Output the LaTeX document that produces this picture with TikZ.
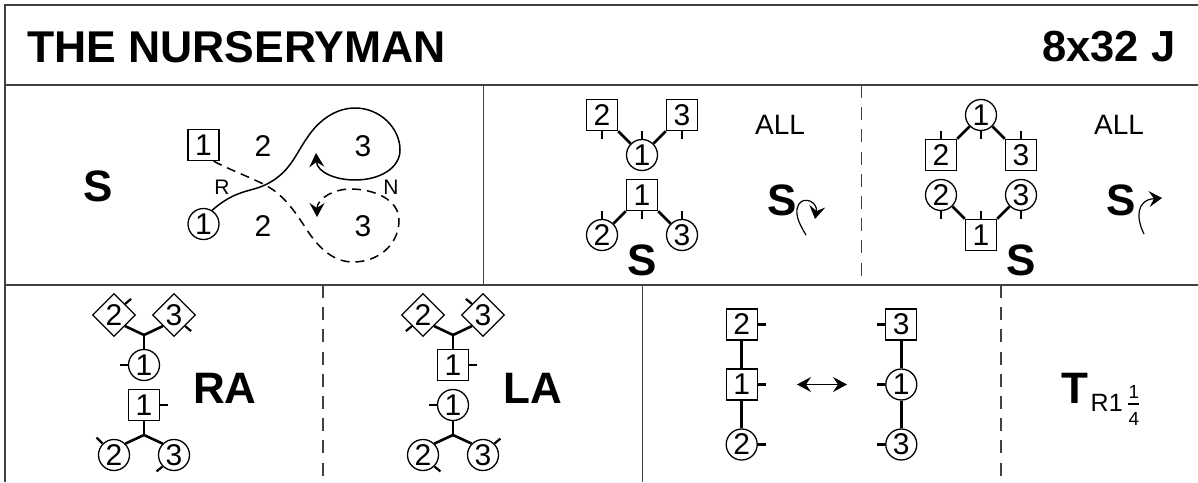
\documentclass[tikz,border=0pt]{standalone}
\usepackage{fontspec}
\setmainfont{Liberation Sans}
\usetikzlibrary{arrows.meta,shapes.geometric}
\tikzset{
  x=1pt,y=-1pt,
  frameline/.style={line width=1.6pt,draw=black!75},
  dashline/.style={line width=1.5pt,draw=black!75,dash pattern=on 13pt off 9.2pt},
  dsq/.style={draw,rectangle,line width=1.3pt,minimum size=31pt,inner sep=0pt,font=\fontsize{30}{30}\selectfont},
  dci/.style={draw,circle,line width=1.3pt,minimum size=31pt,inner sep=0pt,font=\fontsize{30}{30}\selectfont},
  ddi/.style={draw,diamond,line width=1.3pt,minimum width=43pt,minimum height=43pt,inner sep=0pt,font=\fontsize{30}{30}\selectfont},
  bond/.style={line width=2.6pt},
  facing/.style={line width=2.2pt},
  big/.style={font=\fontsize{44}{44}\selectfont\bfseries},
  lab/.style={font=\fontsize{30}{30}\selectfont},
  allab/.style={font=\fontsize{28}{28}\selectfont},
  smalllab/.style={font=\fontsize{21}{21}\selectfont},
  trk/.style={line width=1.5pt,-{Stealth[length=14pt,width=15pt,inset=5pt]}},
  thintrk/.style={line width=1.2pt,-{Stealth[length=13pt,width=16pt,inset=5pt]}},
}
\begin{document}
\begin{tikzpicture}
\useasboundingbox (0,0) rectangle (1198,482);
\fill[white] (0,0) rectangle (1198,482);
% frame
\coordinate (fa) at (4.7,5); \coordinate (fb) at (1198,5);
\coordinate (fc) at (4.7,482);
\draw[frameline] (fc) -- (fa) -- (fb);
\coordinate (l1a) at (4.7,85); \coordinate (l1b) at (1198,85);
\coordinate (l2a) at (4.7,285); \coordinate (l2b) at (1198,285);
\draw[frameline] (l1a) -- (l1b);
\draw[frameline] (l2a) -- (l2b);
\coordinate (v1a) at (483.3,85); \coordinate (v1b) at (483.3,285);
\coordinate (v2a) at (642.3,285); \coordinate (v2b) at (642.3,482);
\draw[frameline] (v1a) -- (v1b);
\draw[frameline] (v2a) -- (v2b);
\coordinate (d1a) at (861.7,85); \coordinate (d1b) at (861.7,285);
\coordinate (d2a) at (323,285); \coordinate (d2b) at (323,482);
\coordinate (d3a) at (1001,285); \coordinate (d3b) at (1001,482);
\draw[dashline] (d1a) -- (d1b);
\draw[dashline] (d2a) -- (d2b);
\draw[dashline] (d3a) -- (d3b);
% title
\node[font=\fontsize{44.5}{44.5}\selectfont\bfseries,anchor=west,inner sep=0pt] (title) at (27,47) {THE NURSERYMAN};
\node[font=\fontsize{43.5}{43.5}\selectfont\bfseries,anchor=east,inner sep=0pt] (bars) at (1175.5,47) {8x32 J};
% panel 1
\node[big] (p1s) at (98,186) {S};
\node[dsq] (a1) at (203.5,145) {1};
\node[dci] (a2) at (203.5,224) {1};
\node[lab] (a3) at (263,146) {2};
\node[lab] (a4) at (363,146) {3};
\node[lab] (a5) at (263,226) {2};
\node[lab] (a6) at (363,226) {3};
\node[smalllab] (a7) at (222,187) {R};
\node[smalllab] (a8) at (391,187) {N};
\draw[trk] (a2.58) .. controls (235,190) and (250,192) .. (265,185) .. controls (290,173) and (295,155) .. (307,138) .. controls (320,118) and (338,108) .. (355,108) .. controls (380,108) and (400,128) .. (400,150) .. controls (400,168) and (380,180) .. (355,180) .. controls (335,180) and (317,172) .. (316,153);
\draw[trk,dash pattern=on 9pt off 6pt] (a1.-58) .. controls (230,170) and (250,177) .. (265,185) .. controls (285,195) and (297,215) .. (307,230) .. controls (320,250) and (335,262) .. (353,262) .. controls (378,262) and (399,245) .. (399,220) .. controls (399,200) and (375,189) .. (350,189) .. controls (335,189) and (317,198) .. (317,217);
% panel 2
\node[dsq] (b2) at (602,115) {2};
\node[dsq] (b3) at (682,115) {3};
\node[dci] (b1) at (642,155) {1};
\draw[bond] (b2.south east) -- (b1.135);
\draw[bond] (b3.south west) -- (b1.45);
\draw[facing] (b2.south) -- ++(0,8);
\draw[facing] (b3.south) -- ++(0,8);
\draw[facing] (b1.north) -- ++(0,-8);
\node[dsq] (b4) at (642,195) {1};
\node[dci] (b5) at (602,235) {2};
\node[dci] (b6) at (682,235) {3};
\draw[bond] (b4.south west) -- (b5.45);
\draw[bond] (b4.south east) -- (b6.135);
\draw[facing] (b4.south) -- ++(0,8);
\draw[facing] (b5.north) -- ++(0,-8);
\draw[facing] (b6.north) -- ++(0,-8);
\node[big] (b7) at (642,260) {S};
\node[allab] (b8) at (780,125) {ALL};
\node[big] (b9) at (782,200) {S};
\coordinate (b10) at (806,235);
\draw[thintrk] (b10) .. controls (798,222) and (794,212) .. (799,204) .. controls (804,196) and (818,202) .. (815,219);
% panel 3
\node[dci] (c1) at (981,115) {1};
\node[dsq] (c2) at (941,155) {2};
\node[dsq] (c3) at (1021,155) {3};
\draw[bond] (c1.225) -- (c2.north east);
\draw[bond] (c1.-45) -- (c3.north west);
\draw[facing] (c1.south) -- ++(0,8);
\draw[facing] (c2.north) -- ++(0,-8);
\draw[facing] (c3.north) -- ++(0,-8);
\node[dci] (c4) at (941,195) {2};
\node[dci] (c5) at (1021,195) {3};
\node[dsq] (c6) at (981,235) {1};
\draw[bond] (c4.-45) -- (c6.north west);
\draw[bond] (c5.225) -- (c6.north east);
\draw[facing] (c4.south) -- ++(0,8);
\draw[facing] (c5.south) -- ++(0,8);
\draw[facing] (c6.north) -- ++(0,-8);
\node[big] (c7) at (1021,260) {S};
\node[allab] (c8) at (1119,125) {ALL};
\node[big] (c9) at (1121,200) {S};
\coordinate (c10) at (1144,234);
\coordinate (c11) at (1162,198);
\draw[thintrk] (c10) .. controls (1136,218) and (1136,200) .. (c11);
% panel 4
\node[ddi] (d1) at (114,315) {2};
\node[ddi] (d2) at (174,315) {3};
\coordinate (dj) at (144,335);
\node[dci] (d3) at (144,365) {1};
\draw[bond] (d1.-45) -- (dj);
\draw[bond] (d2.225) -- (dj);
\draw[bond] (dj) -- (d3.north);
\draw[facing] (d1.45) -- ++(6,-5);
\draw[facing] (d2.-45) -- ++(6,5);
\draw[facing] (d3.west) -- ++(-8,0);
\node[dsq] (d4) at (144,405) {1};
\coordinate (dk) at (144,435);
\node[dci] (d5) at (114,455) {2};
\node[dci] (d6) at (174,455) {3};
\draw[bond] (d4.south) -- (dk);
\draw[bond] (dk) -- (d5.45);
\draw[bond] (dk) -- (d6.135);
\draw[facing] (d4.east) -- ++(8,0);
\draw[facing] (d5.135) -- ++(-6,-6);
\draw[facing] (d6.225) -- ++(-6,5);
\node[big] (d7) at (225,388) {RA};
% panel 5
\node[ddi] (e1) at (423,315) {2};
\node[ddi] (e2) at (483,315) {3};
\coordinate (ej) at (453,335);
\node[dsq] (e3) at (453,365) {1};
\draw[bond] (e1.-45) -- (ej);
\draw[bond] (e2.225) -- (ej);
\draw[bond] (ej) -- (e3.north);
\draw[facing] (e1.225) -- ++(-6,5);
\draw[facing] (e2.135) -- ++(-6,-5);
\draw[facing] (e3.east) -- ++(8,0);
\node[dci] (e4) at (453,405) {1};
\coordinate (ek) at (453,435);
\node[dci] (e5) at (423,455) {2};
\node[dci] (e6) at (483,455) {3};
\draw[bond] (e4.south) -- (ek);
\draw[bond] (ek) -- (e5.45);
\draw[bond] (ek) -- (e6.135);
\draw[facing] (e4.west) -- ++(-8,0);
\draw[facing] (e5.-45) -- ++(6,5);
\draw[facing] (e6.45) -- ++(6,-5);
\node[big] (e7) at (533,388) {LA};
% panel 6
\node[dsq] (f1) at (741.7,324.5) {2};
\node[dsq] (f2) at (741.7,384.5) {1};
\node[dci] (f3) at (741.7,444.5) {2};
\node[dsq] (f4) at (901.3,324.5) {3};
\node[dci] (f5) at (901.3,384.5) {1};
\node[dci] (f6) at (901.3,444.5) {3};
\draw[bond] (f1) -- (f2);
\draw[bond] (f2) -- (f3);
\draw[bond] (f4) -- (f5);
\draw[bond] (f5) -- (f6);
\foreach \n in {f1,f2,f3} \draw[facing] (\n.east) -- ++(8,0);
\foreach \n in {f4,f5,f6} \draw[facing] (\n.west) -- ++(-8,0);
\coordinate (f7) at (797,384.5);
\coordinate (f8) at (847,384.5);
\draw[line width=1.5pt,{Stealth[length=14pt,width=15pt,inset=5pt]}-{Stealth[length=14pt,width=15pt,inset=5pt]}] (f7) -- (f8);
\node[big] (f9) at (1075,388) {T};
\node[font=\fontsize{25}{25}\selectfont,anchor=west,inner sep=0pt] (f10) at (1090.5,403) {R1};
\node[font=\fontsize{19}{19}\selectfont,inner sep=0pt] (f11) at (1134,392) {1};
\node[font=\fontsize{19}{19}\selectfont,inner sep=0pt] (f12) at (1134,418.5) {4};
\coordinate (f13) at (1128,404); \coordinate (f14) at (1139,404);
\draw[line width=1.1pt] (f13) -- (f14);
\end{tikzpicture}
\end{document}
